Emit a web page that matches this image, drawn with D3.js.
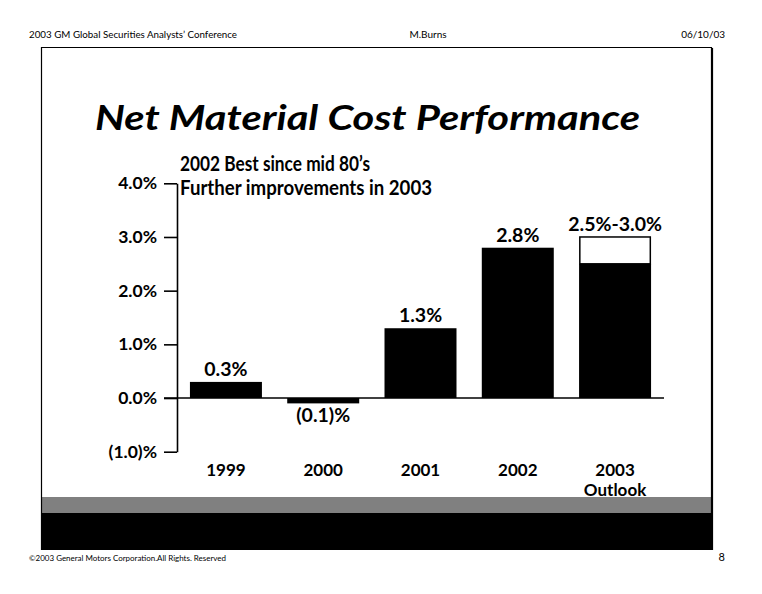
<!DOCTYPE html>
<html><head><meta charset="utf-8">
<script src="https://cdn.jsdelivr.net/npm/d3@7"></script>
<style>html,body{margin:0;padding:0;background:#fff;}svg{display:block;}</style>
</head><body>
<script>
const categories = ["1999","2000","2001","2002","2003"];
const categorySub = ["","","","","Outlook"];
const values = [0.3,-0.1,1.3,2.8,2.5];
const rangeTop = [null,null,null,null,3.0];
const valueLabels = ["0.3%","(0.1)%","1.3%","2.8%","2.5%-3.0%"];
const yTicks = [-1,0,1,2,3,4];
const title = "Net Material Cost Performance";
const subtitle = ["2002 Best since mid 80\u2019s","Further improvements in 2003"];

const W=762,H=594;
const FONT = "Lato, 'Open Sans', sans-serif";
const svg = d3.select("body").append("svg").attr("width",W).attr("height",H);
svg.append("rect").attr("width",W).attr("height",H).attr("fill","#fff");

// header
svg.append("text").attr("x",29).attr("y",38).attr("font-family",FONT).attr("font-size",10)
  .attr("textLength",208).attr("lengthAdjust","spacingAndGlyphs").text("2003 GM Global Securities Analysts\u2019 Conference");
svg.append("text").attr("x",428).attr("y",38).attr("text-anchor","middle").attr("font-family",FONT).attr("font-size",10).text("M.Burns");
svg.append("text").attr("x",725).attr("y",38).attr("text-anchor","end").attr("font-family",FONT).attr("font-size",10).text("06/10/03");

// frame
svg.append("rect").attr("x",41).attr("y",497).attr("width",671).attr("height",16).attr("fill","#808080");
svg.append("rect").attr("x",41).attr("y",513).attr("width",671).attr("height",37).attr("fill","#000");
svg.append("path").attr("d","M41.5,550 V47.5 H711.5 V550").attr("fill","none").attr("stroke","#000").attr("stroke-width",1.2);
svg.append("line").attr("x1",712.5).attr("x2",712.5).attr("y1",48).attr("y2",550).attr("stroke","#000").attr("stroke-width",1.2);

// footer
svg.append("text").attr("x",29).attr("y",561).attr("font-family",FONT).attr("font-size",8)
  .attr("textLength",197).attr("lengthAdjust","spacingAndGlyphs").text("\u00a92003 General Motors Corporation.All Rights. Reserved");
svg.append("text").attr("x",725).attr("y",561).attr("text-anchor","end").attr("font-family",FONT).attr("font-size",11).text("8");

// title
svg.append("text").attr("x",95).attr("y",130).attr("font-family",FONT).attr("font-size",34)
  .attr("font-weight","bold").attr("font-style","italic")
  .attr("textLength",545).attr("lengthAdjust","spacingAndGlyphs").text(title);

// subtitle
const subW=[190,252];
subtitle.forEach((s,i)=>{
  svg.append("text").attr("x",180).attr("y",171+i*24).attr("font-family",FONT).attr("font-size",20)
    .attr("font-weight","bold").attr("textLength",subW[i]).attr("lengthAdjust","spacingAndGlyphs").text(s);
});

// scales
const y = d3.scaleLinear().domain([-1,4]).range([451.7,183.3]);
const x = d3.scaleBand().domain(categories).range([177,664]).paddingInner(0.26).paddingOuter(0.133);

const yAxis = d3.axisLeft(y).tickValues(yTicks).tickSize(13).tickSizeOuter(0).tickPadding(7)
  .tickFormat(v=> v<0 ? "("+Math.abs(v).toFixed(1)+")%" : v.toFixed(1)+"%");
const ag = svg.append("g").attr("transform","translate(177,0)").call(yAxis);
ag.select(".domain").attr("stroke-width",1.6);
ag.selectAll(".tick line").attr("stroke-width",1.6);
ag.selectAll(".tick text").attr("font-family",FONT).attr("font-size",17.5).attr("font-weight","bold").attr("fill","#000");

// zero line
svg.append("line").attr("x1",164).attr("x2",664).attr("y1",y(0)).attr("y2",y(0)).attr("stroke","#000").attr("stroke-width",1.6);

const idx = d3.range(categories.length);
// bars
svg.append("g").selectAll("rect").data(idx).join("rect")
  .attr("x",i=>x(categories[i])).attr("width",x.bandwidth())
  .attr("y",i=>y(Math.max(0,values[i]))).attr("height",i=>Math.abs(y(values[i])-y(0)))
  .attr("fill","#000");
// range top (outlook)
svg.append("g").selectAll("rect").data(idx.filter(i=>rangeTop[i]!=null)).join("rect")
  .attr("x",i=>x(categories[i])+0.75).attr("width",x.bandwidth()-1.5)
  .attr("y",i=>y(rangeTop[i])).attr("height",i=>y(values[i])-y(rangeTop[i]))
  .attr("fill","#fff").attr("stroke","#000").attr("stroke-width",1.5);

// value labels
svg.append("g").selectAll("text").data(idx).join("text")
  .attr("x",i=>x(categories[i])+x.bandwidth()/2)
  .attr("y",i=>{const top = rangeTop[i]!=null?rangeTop[i]:values[i]; return values[i]<0 ? y(values[i])+19 : y(top)-6;})
  .attr("text-anchor","middle").attr("font-family",FONT).attr("font-size",19.5).attr("font-weight","bold")
  .text(i=>valueLabels[i]);

// category labels
svg.append("g").selectAll("text").data(idx).join("text")
  .attr("x",i=>x(categories[i])+x.bandwidth()/2).attr("y",475.5)
  .attr("text-anchor","middle").attr("font-family",FONT).attr("font-size",17).attr("font-weight","bold")
  .text(i=>categories[i]);
svg.append("g").selectAll("text").data(idx.filter(i=>categorySub[i])).join("text")
  .attr("x",i=>x(categories[i])+x.bandwidth()/2).attr("y",496)
  .attr("text-anchor","middle").attr("font-family",FONT).attr("font-size",17).attr("font-weight","bold")
  .text(i=>categorySub[i]);
</script>
</body></html>
